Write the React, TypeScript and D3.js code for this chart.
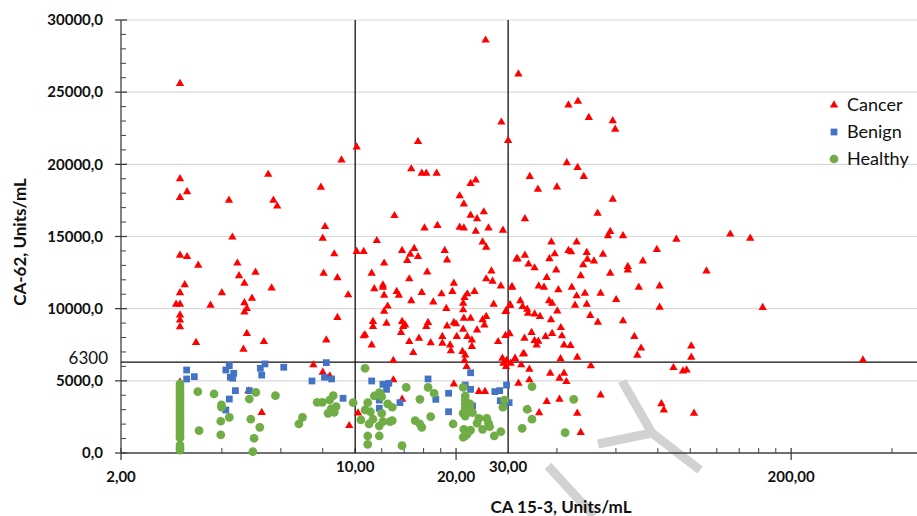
import React, { useEffect, useRef } from 'react';
import * as d3 from 'd3';

// CA 15-3 (x, Units/mL) vs CA-62 (y, Units/mL)
const cancer: [number, number][] = [
  [3.0, 25600], [3.0, 19000], [3.15, 18100], [3.0, 17700], [4.2, 17500], [5.5, 19300], [5.7, 17500], [5.85, 17100],
  [7.9, 18400], [9.1, 20300], [10.1, 21200], [3.0, 13700], [3.15, 13600], [3.4, 13000], [4.3, 14950], [4.45, 13150],
  [4.5, 12270], [4.67, 11760], [5.04, 12520], [5.63, 11430], [3.1, 11650], [3.0, 11100], [2.92, 10300], [3.0, 10300],
  [4.0, 11100], [3.7, 10230], [4.67, 10400], [4.75, 10000], [4.67, 9770], [4.92, 10720], [4.75, 8270], [3.0, 9560],
  [3.0, 9200], [3.0, 8740], [8.13, 15680], [8.0, 14880], [8.66, 13790], [8.05, 12450], [8.85, 12130], [9.53, 10950],
  [8.85, 9380], [10.1, 13950], [3.35, 7650], [4.64, 7190], [5.34, 7710], [8.2, 7830], [7.5, 6100], [8.0, 5590],
  [8.4, 5330], [3.0, 4920], [4.8, 4300], [5.26, 2800], [9.6, 1890], [3.0, 1100], [10.2, 2770],
  [24.5, 28600], [30.7, 26250], [43.3, 24100], [46.2, 24370], [49.8, 23240], [58.7, 23010], [59.7, 22430], [27.3, 22920],
  [28.6, 21640], [15.4, 21570], [14.7, 19680], [15.8, 19380], [16.3, 19380], [17.5, 19380], [20.5, 17810], [22.1, 18660],
  [22.9, 18900], [42.8, 20100], [46.1, 19770], [48.1, 19150], [33.2, 19150], [35.1, 18270], [40.0, 18430], [58.7, 17580],
  [21.1, 17250], [13.1, 16440], [22.1, 16470], [24.2, 16700], [23.1, 16220], [16.1, 15590], [17.6, 15750], [20.5, 15640],
  [21.1, 15590], [22.9, 15360], [25.0, 15590], [27.6, 15430], [11.6, 14710], [10.6, 13950], [13.8, 14020], [15.0, 14160],
  [14.6, 13770], [15.4, 13600], [14.3, 13330], [18.5, 14020], [18.8, 13370], [24.0, 14620], [24.6, 14250], [12.2, 13150],
  [11.2, 12450], [14.5, 12060], [16.4, 12540], [25.5, 12610], [24.6, 12060], [25.7, 11900], [30.3, 13440],
  [11.4, 11370], [12.1, 11640], [12.1, 11480], [12.2, 10930], [13.3, 11180], [13.5, 10930], [14.7, 10550], [15.8, 11110],
  [17.1, 10460], [18.1, 11020], [19.5, 11180], [19.7, 11760], [21.2, 10760], [21.6, 11020], [22.7, 11180], [21.0, 10370],
  [27.2, 11570], [29.3, 11480], [12.5, 10170], [12.2, 9820], [18.7, 10000], [21.0, 9910], [25.9, 10300], [28.9, 10210],
  [28.1, 9790], [10.6, 8110], [11.2, 7480], [11.3, 9100], [11.3, 8750], [12.4, 8990], [13.8, 9100], [14.1, 8870],
  [13.9, 8750], [14.5, 7710], [14.9, 6950], [15.5, 7950], [16.5, 9030], [16.3, 8750], [16.8, 7640], [18.2, 8060],
  [18.8, 8800], [19.7, 9030], [20.0, 8940], [18.2, 7600], [19.2, 7480], [19.3, 7070], [20.1, 8060], [21.1, 9330],
  [22.1, 9330], [23.1, 8520], [24.0, 9220], [24.3, 8870], [24.6, 9450], [21.0, 8570], [21.6, 8060], [22.3, 7830],
  [22.3, 7370], [20.9, 7020], [21.3, 6790], [26.7, 7710], [28.1, 8130], [28.9, 8250], [28.3, 6400], [27.5, 6560],
  [30.0, 6560], [13.0, 6400], [21.2, 6400],
  [52.9, 16610], [32.1, 16220], [57.7, 15340], [56.8, 15040], [63.0, 15040], [90.9, 14810], [38.5, 14620], [45.8, 14620],
  [43.3, 14020], [44.1, 13930], [49.1, 13880], [54.9, 13770], [79.5, 14090], [30.5, 13460], [32.1, 13700], [39.4, 13790],
  [38.0, 13460], [49.3, 13420], [51.6, 13300], [47.9, 13030], [32.9, 13080], [34.3, 12820], [72.2, 13300], [65.1, 12910],
  [65.1, 12680], [39.8, 12680], [57.7, 12450], [111.8, 12610], [47.1, 12270], [37.3, 12150], [29.4, 11520], [35.3, 11570],
  [36.6, 11480], [40.4, 11300], [44.3, 11480], [48.5, 11070], [45.8, 10880], [54.0, 11070], [70.2, 11480], [81.0, 11570],
  [37.9, 10550], [38.7, 10370], [45.3, 10230], [49.1, 10300], [60.1, 10620], [31.1, 10550], [31.6, 10140], [32.6, 9960],
  [29.0, 10260], [28.2, 9840], [40.1, 9840], [81.0, 10100], [164.5, 10070], [32.8, 9680], [34.3, 9630], [35.6, 9450],
  [38.4, 9220], [50.3, 9520], [53.0, 9060], [63.0, 9150], [41.1, 8680], [41.4, 8110], [33.6, 8340], [32.0, 7950],
  [34.3, 7780], [35.2, 7740], [37.0, 8060], [38.7, 8270], [42.0, 7480], [43.9, 7440], [68.1, 8060], [71.3, 7260],
  [69.5, 6770], [100.7, 7410], [100.7, 6630], [30.0, 6510], [31.9, 6880], [41.0, 6530], [46.0, 6630], [131.6, 15160],
  [151.0, 14880], [89.1, 5910], [95.1, 5680], [97.5, 5750], [327.6, 6440], [54.0, 4020], [82.0, 3400], [83.4, 2980],
  [102.6, 2750],
  [10.7, 8180], [21.5, 5980], [28.2, 5980], [27.7, 6220], [29.1, 6220], [31.3, 6100], [33.1, 5800], [30.7, 4830],
  [33.1, 5060], [34.8, 7480], [38.2, 5520], [40.7, 5180], [42.0, 5520], [42.7, 4940], [50.5, 6030], [19.7, 4780],
  [23.4, 4250], [24.4, 4250], [37.3, 3560], [40.7, 3720], [35.4, 2790], [46.0, 2750], [47.1, 1410], [32.8, 3050],
  [13.0, 5060], [13.7, 8340], [31.7, 6860], [13.8, 3720],
];

const benign: [number, number][] = [
  [3.14, 5750], [3.14, 5130], [3.31, 5290], [4.21, 6050], [4.11, 5750], [4.34, 5520], [4.24, 5250], [4.31, 5180],
  [4.39, 4320], [4.21, 3740], [4.11, 2980], [4.83, 4320], [5.21, 5870], [5.38, 6170], [5.26, 5400], [6.12, 5940],
  [7.43, 4990], [8.2, 6260], [8.1, 5250], [8.5, 5130], [9.2, 3790], [11.2, 4990], [12.1, 4760], [12.6, 4830],
  [12.4, 4410], [11.8, 3670], [13.6, 3490], [16.5, 5130], [17.4, 3720], [19.0, 4140], [19.0, 2860], [21.3, 4710],
  [22.1, 5560], [22.1, 4410], [22.4, 3260], [26.1, 4250], [27.0, 4320], [28.3, 4710], [27.1, 3620], [28.8, 3490],
  [11.8, 3100],
];

const healthy: [number, number][] = [
  [3.0, 4800], [3.0, 4600], [3.0, 4400], [3.0, 4200], [3.0, 4000], [3.0, 3800], [3.0, 3600], [3.0, 3400],
  [3.0, 3200], [3.0, 3000], [3.0, 2800], [3.0, 2600], [3.0, 2400], [3.0, 2200], [3.0, 2000], [3.0, 1800],
  [3.0, 1600], [3.0, 1400], [3.0, 1200], [3.0, 1050], [3.0, 550], [3.0, 350], [3.0, 200],
  [3.39, 4250], [3.79, 4090], [3.99, 3330], [3.99, 3170], [3.97, 2200], [4.21, 2470], [3.42, 1550], [3.97, 1250],
  [4.83, 3740], [5.05, 4200], [4.88, 2340], [5.19, 1780], [4.99, 1020], [4.95, 90], [5.78, 3970], [6.96, 2470],
  [6.79, 2010], [7.7, 3510], [7.98, 3510], [8.39, 3670], [8.6, 3970], [8.47, 3050], [8.77, 3210], [8.3, 2750],
  [8.66, 2820], [9.86, 3490],
  [10.7, 5870], [14.2, 4550], [11.4, 3950], [11.8, 4180], [12.0, 3900], [10.9, 3490], [12.5, 3400], [12.9, 3170],
  [10.7, 2980], [11.1, 2860], [12.0, 2750], [10.4, 2290], [11.3, 2340], [12.1, 2170], [12.7, 2170], [11.0, 2010],
  [11.8, 1870], [12.9, 2240], [10.9, 1180], [11.8, 1180], [10.9, 600], [13.8, 510], [15.6, 3720], [16.5, 4550],
  [17.2, 4140], [15.1, 2240], [15.6, 2010], [15.8, 1780], [16.8, 2520], [21.0, 4550], [21.3, 3950], [21.3, 3670],
  [21.3, 3400], [22.0, 3400], [21.3, 3100], [21.3, 2860], [21.0, 2750], [21.3, 2560], [22.0, 3030], [22.4, 2790],
  [19.6, 2010], [21.1, 1640], [21.3, 1180], [21.6, 1320], [21.0, 1090], [22.1, 1590], [23.1, 2060], [23.4, 2400],
  [24.7, 2400], [25.0, 2060], [25.2, 1820], [24.0, 1640], [26.0, 1180], [27.2, 1480], [27.9, 3670], [27.6, 3170],
  [33.7, 4600], [32.6, 3030], [33.7, 2340], [31.5, 1710], [42.3, 1410], [44.9, 3720],
];

const seriesNames = ['Cancer', 'Benign', 'Healthy'];
const yTicks = [0, 5000, 10000, 15000, 20000, 25000, 30000];
const xMajorTicks = [2, 20, 200];
const xMinorTicks = [4, 6, 8, 10, 12, 14, 16, 18, 40, 60, 80, 100, 120, 140, 160, 180, 400];
// cut-off lines drawn on the chart (x line sits a little left of a true 30)
const cutY = 6300;
const cutX = [
  { value: 10, label: '10,00' },
  { value: 28.6, label: '30,00' },
];

const fmt = (v: number, d: number) => v.toFixed(d).replace('.', ',');
const FONT = 'Lato, "Open Sans", "Liberation Sans", sans-serif';

const App = () => {
  const ref = useRef<SVGSVGElement>(null);

  useEffect(() => {
    const width = 917;
    const height = 516;

    const svg = d3.select(ref.current);
    svg.selectAll('*').remove();
    svg.attr('width', width).attr('height', height);

    const x = d3.scaleLog().domain([2, 475]).range([121, 917]);
    const y = d3.scaleLinear().domain([0, 30000]).range([453, 20]);
    const [x0, x1] = x.range();

    // small helper so every label gets the same font
    const label = (sel: any, size: number, bold: boolean) =>
      sel.style('font-family', FONT)
        .style('font-size', `${size}px`)
        .style('font-weight', bold ? 'bold' : 'normal')
        .attr('fill', '#111');

    // horizontal gridlines
    svg.append('g')
      .selectAll('line')
      .data(yTicks.slice(1))
      .enter()
      .append('line')
      .attr('x1', x0)
      .attr('x2', x1)
      .attr('y1', d => y(d))
      .attr('y2', d => y(d))
      .attr('stroke', '#d9d9d9')
      .attr('stroke-width', 1.2);

    // watermark strokes
    const wm = svg.append('g').attr('stroke', '#d2d2d2').attr('stroke-width', 9).attr('fill', 'none');
    wm.append('path').attr('d', 'M622,381 L652,433 L598,444');
    wm.append('path').attr('d', 'M652,433 L700,470');
    wm.append('path').attr('d', 'M548,466 L594,516');

    // y axis
    const yAxis = svg.append('g').attr('stroke', '#404040');
    yAxis.append('line').attr('x1', x0).attr('x2', x0).attr('y1', y(0)).attr('y2', y(30000)).attr('stroke-width', 1.3);
    yAxis.selectAll('.minor')
      .data(d3.range(1000, 30000, 1000).filter(v => v % 5000 !== 0))
      .enter()
      .append('line')
      .attr('x1', x0)
      .attr('x2', x0 + 5)
      .attr('y1', d => y(d))
      .attr('y2', d => y(d));
    yAxis.selectAll('.major')
      .data(yTicks)
      .enter()
      .append('line')
      .attr('x1', x0 - 6)
      .attr('x2', x0 + 6)
      .attr('y1', d => y(d))
      .attr('y2', d => y(d))
      .attr('stroke-width', 1.3);

    label(svg.append('g')
      .selectAll('text')
      .data(yTicks)
      .enter()
      .append('text')
      .attr('x', 103)
      .attr('y', d => y(d))
      .attr('dy', '0.35em')
      .attr('text-anchor', 'end')
      .text(d => fmt(d, 1)), 15, true);

    // x axis
    const xAxis = svg.append('g').attr('stroke', '#404040');
    xAxis.append('line').attr('x1', x0).attr('x2', x1).attr('y1', y(0)).attr('y2', y(0)).attr('stroke-width', 1.3);
    xAxis.selectAll('.minor')
      .data(xMinorTicks)
      .enter()
      .append('line')
      .attr('x1', d => x(d))
      .attr('x2', d => x(d))
      .attr('y1', y(0) - 5)
      .attr('y2', y(0));
    xAxis.selectAll('.major')
      .data(xMajorTicks)
      .enter()
      .append('line')
      .attr('x1', d => x(d))
      .attr('x2', d => x(d))
      .attr('y1', y(0) - 5)
      .attr('y2', y(0) + 7)
      .attr('stroke-width', 1.3);

    label(svg.append('g')
      .selectAll('text')
      .data(xMajorTicks)
      .enter()
      .append('text')
      .attr('x', d => x(d))
      .attr('y', 477)
      .attr('dy', '0.35em')
      .attr('text-anchor', 'middle')
      .text(d => fmt(d, 2)), 15, true);

    // cut-off lines
    const cut = svg.append('g').attr('stroke', '#111').attr('stroke-width', 1.3);
    cut.append('line').attr('x1', x0).attr('x2', x1).attr('y1', y(cutY)).attr('y2', y(cutY));
    cut.selectAll('.v')
      .data(cutX)
      .enter()
      .append('line')
      .attr('x1', d => x(d.value))
      .attr('x2', d => x(d.value))
      .attr('y1', y(0))
      .attr('y2', y(30000));

    label(svg.append('text')
      .attr('x', 108)
      .attr('y', y(cutY) - 4)
      .attr('dy', '0.35em')
      .attr('text-anchor', 'end')
      .text(String(cutY)), 17, false);

    label(svg.append('g')
      .selectAll('text')
      .data(cutX)
      .enter()
      .append('text')
      .attr('x', d => x(d.value))
      .attr('y', 467)
      .attr('dy', '0.35em')
      .attr('text-anchor', 'middle')
      .text(d => d.label), 15, true);

    // points: cancer first, healthy on top
    const sym = [
      d3.symbol().type(d3.symbolTriangle).size(30),
      d3.symbol().type(d3.symbolSquare).size(46),
      d3.symbol().type(d3.symbolCircle).size(60),
    ];
    const colors = ['#ff0000', '#4472c4', '#70ad47'];
    [cancer, benign, healthy].forEach((pts, i) => {
      svg.append('g')
        .selectAll('path')
        .data(pts)
        .enter()
        .append('path')
        .attr('d', sym[i]() as string)
        .attr('transform', d => `translate(${x(d[0])},${y(d[1])})`)
        .attr('fill', colors[i]);
    });

    // legend
    const legend = svg.append('g').attr('transform', 'translate(834,105)');
    seriesNames.forEach((name, i) => {
      const row = legend.append('g').attr('transform', `translate(0,${i * 27})`);
      row.append('path').attr('d', sym[i]() as string).attr('fill', colors[i]);
      label(row.append('text')
        .attr('x', 13)
        .attr('dy', '0.35em')
        .text(name), 18, false);
    });

    // axis titles
    label(svg.append('text')
      .attr('x', 561)
      .attr('y', 507)
      .attr('dy', '0.35em')
      .attr('text-anchor', 'middle')
      .text('CA 15-3, Units/mL'), 17, true);

    label(svg.append('text')
      .attr('transform', 'translate(20,242) rotate(-90)')
      .attr('dy', '0.35em')
      .attr('text-anchor', 'middle')
      .text('CA-62, Units/mL'), 17, true);
  }, []);

  return (
    <div style={{ position: 'absolute', left: 0, top: 0, background: '#fff' }}>
      <svg ref={ref} style={{ display: 'block' }} />
    </div>
  );
};

export default App;
